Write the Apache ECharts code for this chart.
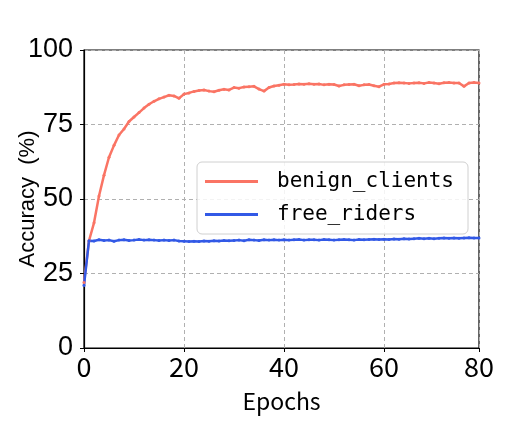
<!DOCTYPE html>
<html>
<head>
<meta charset="utf-8">
<script src="https://cdn.jsdelivr.net/npm/echarts@6/dist/echarts.min.js"></script>
<style>html,body{margin:0;padding:0;background:#fff}#c{width:531px;height:436px}</style>
</head>
<body>
<div id="c"></div>
<script>
const epochs = Array.from({length: 80}, (_, i) => i);
const benignClients = [
  22, 36, 42, 51, 58, 64, 68, 71.5, 73.5, 76,
  77.5, 79, 80.5, 81.8, 82.8, 83.6, 84.2, 84.8, 84.6, 83.8,
  85.2, 85.6, 86.1, 86.4, 86.6, 86.2, 86.0, 86.5, 86.8, 86.6,
  87.4, 87.2, 87.6, 87.7, 87.8, 86.9, 86.2, 87.4, 87.9, 88.2,
  88.5, 88.3, 88.4, 88.6, 88.5, 88.7, 88.5, 88.6, 88.3, 88.5,
  88.4, 87.9, 88.3, 88.4, 88.5, 88.0, 88.3, 88.4, 88.0, 87.7,
  88.5, 88.6, 88.9, 89.0, 88.9, 88.8, 88.9, 89.0, 88.8, 89.1,
  88.9, 88.7, 89.0, 89.1, 88.9, 88.9, 87.8, 88.9, 89.1, 88.9
];
const freeRiders = [
  21, 36.0, 35.9, 36.3, 36.1, 36.2, 35.8, 36.2, 36.3, 36.1,
  36.2, 36.4, 36.2, 36.3, 36.2, 36.1, 36.2, 36.1, 36.2, 35.9,
  35.8, 35.7, 35.8, 35.7, 35.9, 35.8, 36.0, 35.9, 36.1, 36.0,
  36.1, 36.2, 36.0, 36.3, 36.2, 36.1, 36.3, 36.2, 36.3, 36.2,
  36.3, 36.2, 36.3, 36.4, 36.2, 36.3, 36.3, 36.2, 36.4, 36.3,
  36.2, 36.3, 36.4, 36.3, 36.2, 36.4, 36.3, 36.4, 36.5, 36.4,
  36.5, 36.4, 36.6, 36.5, 36.7, 36.6, 36.7, 36.8, 36.7, 36.8,
  36.7, 36.8, 36.9, 36.8, 36.9, 36.8, 36.9, 37.0, 36.9, 36.9
];
const xTickValues = [0, 20, 40, 60, 79];
const xTickLabels = ['0', '20', '40', '60', '80'];
const yTickValues = [0, 25, 50, 75, 100];

const chart = echarts.init(document.getElementById('c'));
const pair = arr => epochs.map((e, i) => [e, arr[i]]);
chart.setOption({
  animation: false,
  backgroundColor: '#fff',
  grid: {left: 84, right: 52, top: 50, bottom: 88, show: true, borderColor: '#000', borderWidth: 1.2,
    backgroundColor: 'transparent', containLabel: false, outerBoundsMode: 'none'},
  xAxis: {
    type: 'value', min: 0, max: 79, interval: 20,
    name: 'Epochs', nameLocation: 'middle', nameGap: 42, nameMoveOverlap: false,
    nameTextStyle: {fontFamily: 'Noto Sans CJK SC', fontSize: 23, color: '#000'},
    axisLine: {show: true, lineStyle: {color: '#000', width: 1.2}},
    axisTick: {show: true, length: 4, lineStyle: {color: '#000'}, customValues: xTickValues},
    axisLabel: {margin: 5, fontFamily: 'Noto Sans CJK SC', fontSize: 27, color: '#000',
      customValues: xTickValues,
      formatter: v => xTickLabels[xTickValues.indexOf(v)] ?? ''},
    splitLine: {show: true, lineStyle: {type: [4, 3], color: '#b0b0b0', width: 1}}
  },
  yAxis: {
    type: 'value', min: 0, max: 100, interval: 25,
    name: 'Accuracy  (%)', nameLocation: 'middle', nameGap: 56, nameRotate: 90, nameMoveOverlap: false,
    nameTextStyle: {fontFamily: 'Liberation Sans', fontSize: 22, color: '#000', verticalAlign: 'middle'},
    axisLine: {show: true, lineStyle: {color: '#000', width: 1.2}},
    axisTick: {show: true, length: 4, lineStyle: {color: '#000'}},
    axisLabel: {margin: 11, fontFamily: 'Liberation Sans', fontSize: 27, color: '#000',
      formatter: v => yTickValues.includes(v) ? String(v) : ''},
    splitLine: {show: true, lineStyle: {type: [4, 3], color: '#b0b0b0', width: 1}}
  },
  legend: {
    orient: 'vertical', left: 197, top: 162,
    padding: [9, 14, 9, 8], itemGap: 12, itemWidth: 53, itemHeight: 3,
    backgroundColor: 'rgba(255,255,255,0.85)', borderColor: '#d0d0d0', borderWidth: 1, borderRadius: 5,
    textStyle: {fontFamily: 'DejaVu Sans Mono', fontSize: 21, color: '#000', padding: [0, 0, 0, 14]},
    icon: 'rect',
    data: ['benign_clients', 'free_riders']
  },
  series: [
    {name: 'benign_clients', type: 'line', data: pair(benignClients), color: '#FA7464',
      lineStyle: {width: 2.5}, symbol: 'circle', symbolSize: 3, showSymbol: true},
    {name: 'free_riders', type: 'line', data: pair(freeRiders), color: '#3259E6',
      lineStyle: {width: 2.5}, symbol: 'circle', symbolSize: 3, showSymbol: true}
  ]
});
</script>
</body>
</html>
